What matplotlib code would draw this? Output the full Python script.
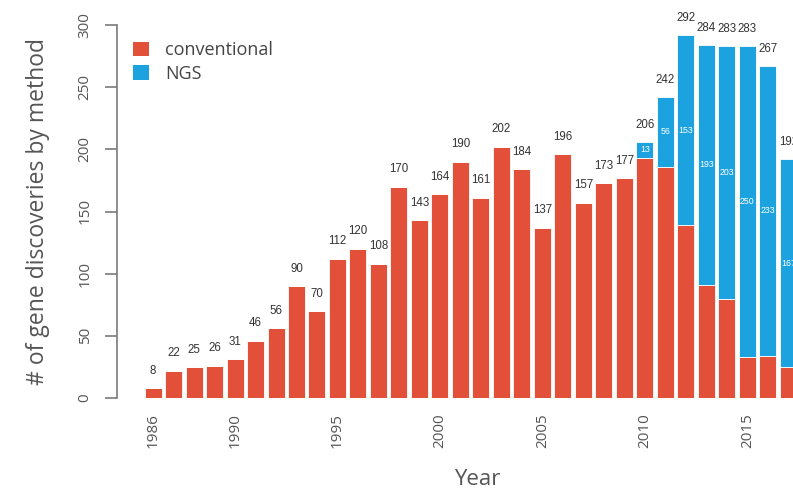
import matplotlib.pyplot as plt
from matplotlib.patches import Patch

# --- Data (gene discoveries per year, split by method) ---
years = list(range(1986, 2018))
conventional = [8, 22, 25, 26, 31, 46, 56, 90, 70, 112, 120, 108, 170, 143, 164, 190,
                161, 202, 184, 137, 196, 157, 173, 177, 193, 186, 139, 91, 80, 33, 34, 25]
ngs = [0, 0, 0, 0, 0, 0, 0, 0, 0, 0, 0, 0, 0, 0, 0, 0,
       0, 0, 0, 0, 0, 0, 0, 0, 13, 56, 153, 193, 203, 250, 233, 167]
xtick_years = [1986, 1990, 1995, 2000, 2005, 2010, 2015]
yticks = [0, 50, 100, 150, 200, 250, 300]

RED = '#E2503A'
BLUE = '#1DA2E0'
AXIS_GREY = '#7a7a7a'
TEXT_GREY = '#555555'

fig = plt.figure(figsize=(7.93, 4.91), dpi=100)
# axes deliberately runs past the right edge, so the last bar is cut off
ax = fig.add_axes([117 / 793, 1 - 398 / 491, 702 / 793, 373 / 491])

ax.bar(years, conventional, width=0.83, color=RED, edgecolor='white', linewidth=0.6)
ax.bar(years, ngs, width=0.83, bottom=conventional, color=BLUE, edgecolor='white', linewidth=0.6)

# --- Value labels ---
for yr, c, n in zip(years, conventional, ngs):
    total = c + n
    ax.annotate(str(total), (yr, total), xytext=(0, 12.5), textcoords='offset points',
                ha='center', va='center', fontsize=8.3, color='#333333',
                family='Liberation Sans')
    if n > 0:
        ax.text(yr, c + n / 2, str(n), ha='center', va='center', fontsize=6.3,
                color='white', family='Liberation Sans')

# --- Axes styling ---
ax.set_xlim(1984.24, 2018.5)
ax.set_ylim(0, 300)
for side in ['top', 'right', 'bottom']:
    ax.spines[side].set_visible(False)
ax.spines['left'].set_color(AXIS_GREY)
ax.spines['left'].set_linewidth(1.2)

ax.set_yticks(yticks)
ax.set_yticklabels([str(v) for v in yticks], rotation=90, va='center',
                   family='Open Sans', fontsize=11, color=TEXT_GREY)
ax.tick_params(axis='y', length=8.5, width=1.2, color=AXIS_GREY, pad=9)

ax.set_xticks(xtick_years)
ax.set_xticklabels([str(v) for v in xtick_years], rotation=90, ha='center', va='top',
                   family='Open Sans', fontsize=11, color=TEXT_GREY)
ax.tick_params(axis='x', length=0, pad=11)

ax.set_ylabel('# of gene discoveries by method', family='Open Sans', fontsize=16.5,
              color=TEXT_GREY)
ax.yaxis.set_label_coords(-0.095, 0.5)
ax.set_xlabel('Year', family='Open Sans', fontsize=16, color=TEXT_GREY)
ax.xaxis.label.set_va('baseline')
ax.xaxis.set_label_coords(0.513, -0.233)

# --- Legend ---
handles = [Patch(facecolor=RED, label='conventional'), Patch(facecolor=BLUE, label='NGS')]
leg = ax.legend(handles=handles, loc='upper left', bbox_to_anchor=(0.0, 1.0),
                frameon=False, handlelength=0.85, handleheight=0.85, handletextpad=0.9,
                labelspacing=0.3, prop={'family': 'Open Sans', 'size': 13})
for t in leg.get_texts():
    t.set_color('#444444')

fig.savefig('out.png', dpi=100)
